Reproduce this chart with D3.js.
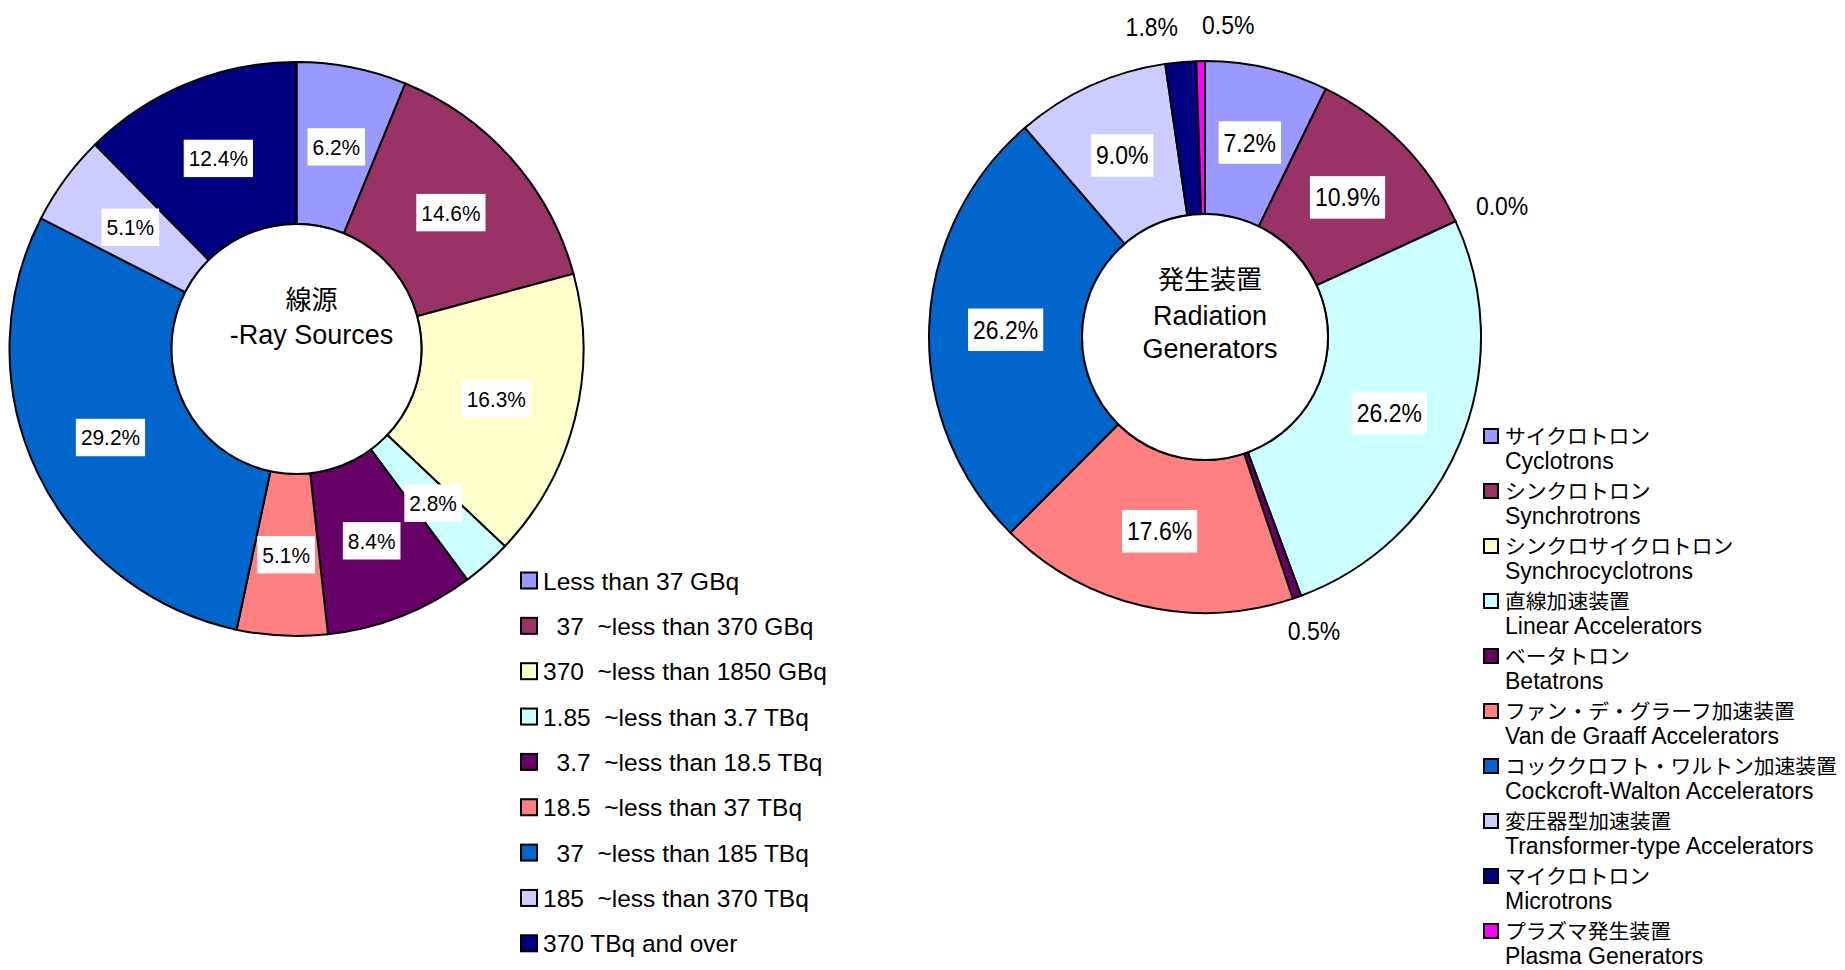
<!doctype html>
<html lang="ja">
<head>
<meta charset="utf-8">
<script src="https://cdn.jsdelivr.net/npm/d3@7/dist/d3.min.js"></script>
<style>
    body { margin: 0; background: #fff; }
    svg { display: block; font-family: "Liberation Sans", Arial, "Noto Sans CJK JP", sans-serif; }
    .pre { white-space: pre; }
</style>
</head>
<body>
<svg id="chart" width="1845" height="970"></svg>
<script>
    // ---- data: radiation sources (left ring) ----
    var sourceCats = ["Less than 37 GBq", "  37  ~less than 370 GBq", "370  ~less than 1850 GBq",
        "1.85  ~less than 3.7 TBq", "  3.7  ~less than 18.5 TBq", "18.5  ~less than 37 TBq",
        "  37  ~less than 185 TBq", "185  ~less than 370 TBq", "370 TBq and over"];
    var sourceVals = [6.2, 14.6, 16.3, 2.8, 8.4, 5.1, 29.2, 5.1, 12.4];

    // ---- data: radiation generators (right ring) ----
    var genJa = ["サイクロトロン", "シンクロトロン", "シンクロサイクロトロン", "直線加速装置", "ベータトロン",
        "ファン・デ・グラーフ加速装置", "コッククロフト・ワルトン加速装置", "変圧器型加速装置", "マイクロトロン", "プラズマ発生装置"];
    var genEn = ["Cyclotrons", "Synchrotrons", "Synchrocyclotrons", "Linear Accelerators", "Betatrons",
        "Van de Graaff Accelerators", "Cockcroft-Walton Accelerators", "Transformer-type Accelerators", "Microtrons", "Plasma Generators"];
    var genVals = [7.2, 10.9, 0.0, 26.2, 0.5, 17.6, 26.2, 9.0, 1.8, 0.5];

    var palette = ["#9999ff", "#993366", "#ffffcc", "#ccffff", "#660066", "#ff8080", "#0066cc", "#ccccff", "#000080", "#ff00ff"];

    var svg = d3.select("#chart");
    var fmt = function(v) { return d3.format(".1f")(v) + "%"; };

    // draws one ring with its labels
    function drawRing(vals, opt) {
        var g = svg.append("g").attr("transform", "translate(" + opt.cx + "," + opt.cy + ")");
        var pie = d3.pie().sort(null).value(function(d) { return d; });
        var arcs = pie(vals);
        var arc = d3.arc().innerRadius(opt.r).outerRadius(opt.R);

        g.selectAll("path.slice")
            .data(arcs)
            .enter().append("path")
            .attr("class", "slice")
            .attr("d", arc)
            .attr("fill", function(d, i) { return palette[i]; })
            .attr("stroke", "#000")
            .attr("stroke-width", 2)
            .attr("stroke-linejoin", "round");

        // centre hole outline
        g.append("circle").attr("r", opt.r).attr("fill", "#fff").attr("stroke", "#000").attr("stroke-width", 2);

        var fs = opt.fontSize, sx = opt.squeeze;
        var inside = arcs.filter(function(d) { return d.data >= opt.minInside; });
        var outside = arcs.filter(function(d) { return d.data < opt.minInside; });

        // inside labels in white boxes at the arc centroid
        inside.forEach(function(d) {
            var c = arc.centroid(d);
            var lg = g.append("g").attr("transform", "translate(" + c[0] + "," + c[1] + ")");
            var rect = lg.append("rect").attr("fill", "#fff");
            var t = lg.append("text")
                .attr("text-anchor", "middle")
                .attr("dy", "0.36em")
                .attr("transform", "scale(" + sx + ",1)")
                .style("font-size", fs + "px")
                .text(fmt(d.data));
            var w = t.node().getComputedTextLength() * sx + 10;
            var h = fs * 1.7;
            rect.attr("x", -w / 2).attr("y", -h / 2).attr("width", w).attr("height", h);
        });

        // outside labels, pushed off the ring
        var pos = outside.map(function(d) {
            var a = (d.startAngle + d.endAngle) / 2;
            var rho = opt.R + 25;
            var w = fs * 2.279 * sx, h = fs * 0.85;
            return {
                x: (rho + w / 2) * Math.sin(a),
                y: -(rho + h / 2) * Math.cos(a),
                w: w, h: h, v: d.data
            };
        });
        // spread overlapping labels apart horizontally
        for (var it = 0; it < 20; it++) {
            pos.sort(function(a, b) { return a.x - b.x; });
            for (var i = 0; i < pos.length - 1; i++) {
                var a = pos[i], b = pos[i + 1];
                var need = (a.w + b.w) / 2 + 24;
                if (Math.abs(a.y - b.y) < a.h * 1.5 && b.x - a.x < need) {
                    var m = (a.x + b.x) / 2 + 2;
                    a.x = m - need / 2;
                    b.x = m + need / 2;
                }
            }
        }
        pos.forEach(function(p) {
            g.append("text")
                .attr("text-anchor", "middle")
                .attr("dy", "0.36em")
                .attr("transform", "translate(" + p.x + "," + p.y + ") scale(" + sx + ",1)")
                .style("font-size", fs + "px")
                .text(fmt(p.v));
        });

        // centre title
        opt.title.forEach(function(line) {
            g.append("text")
                .attr("x", opt.titleDx)
                .attr("y", line[1])
                .attr("text-anchor", "middle")
                .style("font-size", line[2] + "px")
                .text(line[0]);
        });
        return g;
    }

    drawRing(sourceVals, {
        cx: 296.5, cy: 349, R: 287, r: 125,
        fontSize: 22, squeeze: 0.95, minInside: 0,
        titleDx: 15,
        title: [["線源", -40, 26], ["-Ray Sources", -5, 27]]
    });

    drawRing(genVals, {
        cx: 1205, cy: 337, R: 276, r: 123,
        fontSize: 25, squeeze: 0.92, minInside: 2,
        titleDx: 5,
        title: [["発生装置", -48, 26], ["Radiation", -12, 27], ["Generators", 21, 27]]
    });

    // ---- left legend ----
    var leg1 = svg.append("g").attr("transform", "translate(521,580.5)");
    var row1 = leg1.selectAll("g")
        .data(sourceCats)
        .enter().append("g")
        .attr("transform", function(d, i) { return "translate(0," + (i * 45.35) + ")"; });
    row1.append("rect")
        .attr("x", 0).attr("y", -8).attr("width", 16).attr("height", 16)
        .attr("fill", function(d, i) { return palette[i]; })
        .attr("stroke", "#000").attr("stroke-width", 2);
    row1.append("text")
        .attr("class", "pre")
        .attr("x", 22).attr("y", 9)
        .style("font-size", "24.5px")
        .text(function(d) { return d; });

    // ---- right legend ----
    var leg2 = svg.append("g").attr("transform", "translate(1484,429)");
    var row2 = leg2.selectAll("g")
        .data(genJa)
        .enter().append("g")
        .attr("transform", function(d, i) { return "translate(0," + (i * 55.0) + ")"; });
    row2.append("rect")
        .attr("x", 0).attr("y", 0).attr("width", 14).attr("height", 14)
        .attr("fill", function(d, i) { return palette[i]; })
        .attr("stroke", "#000").attr("stroke-width", 2);
    row2.append("text")
        .attr("x", 21).attr("y", 14.5)
        .style("font-size", "20.8px")
        .text(function(d) { return d; });
    row2.append("text")
        .attr("x", 21).attr("y", 39.5)
        .style("font-size", "23px")
        .text(function(d, i) { return genEn[i]; });
</script>
</body>
</html>
